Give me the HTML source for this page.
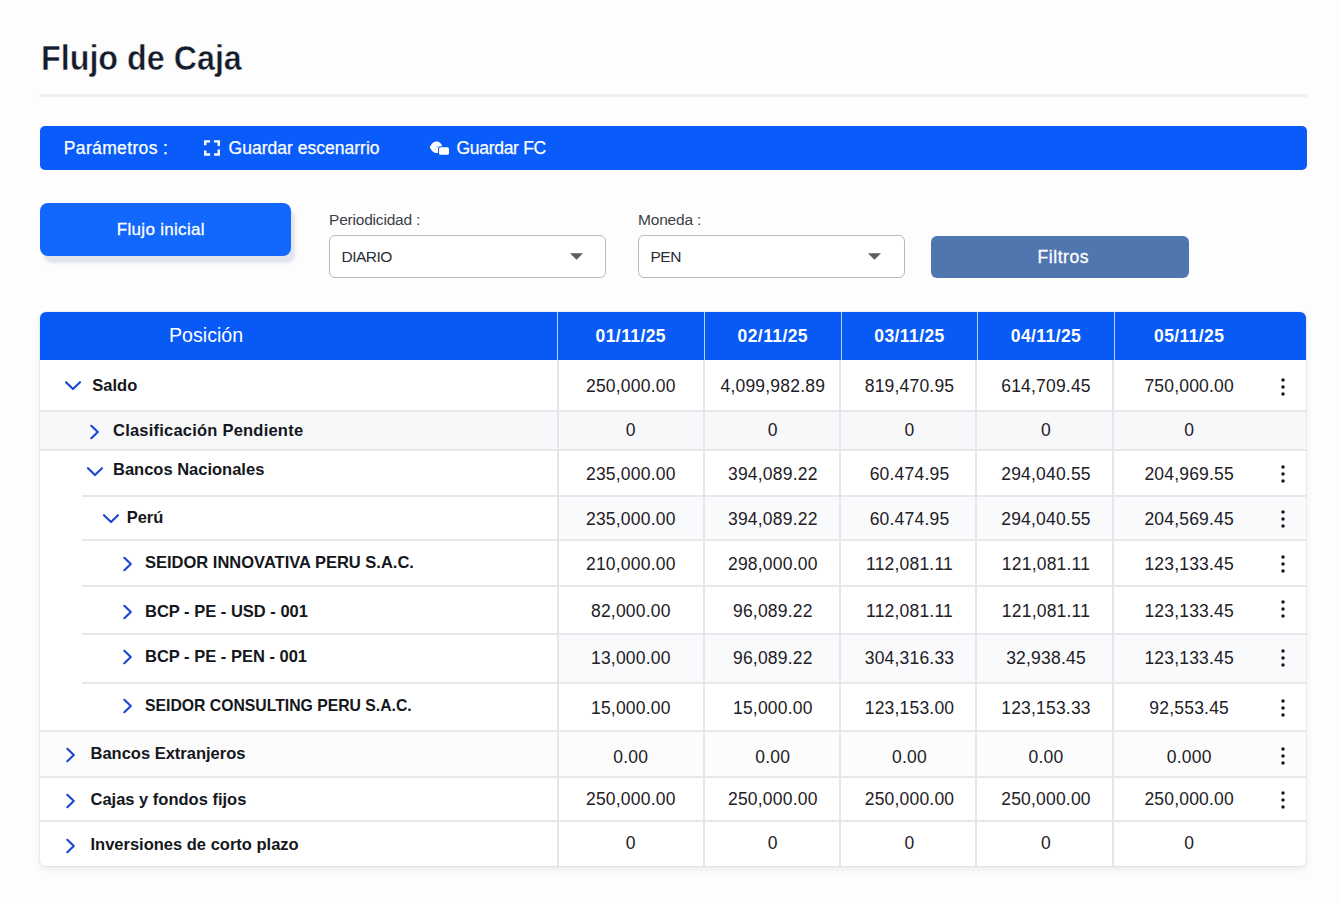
<!DOCTYPE html>
<html lang="es"><head><meta charset="utf-8"><title>Flujo de Caja</title>
<style>
html,body{margin:0;padding:0;}
body{width:1339px;height:904px;background:#fdfdfd;font-family:"Liberation Sans", Arial, sans-serif;position:relative;overflow:hidden;}
.abs{position:absolute;}
.t{position:absolute;white-space:nowrap;line-height:1;}
</style></head><body>
<div class="t" style="left:40.6px;top:40.0px;font-size:35px;font-weight:700;color:#141b2b;letter-spacing:0px;transform:scaleX(0.922);transform-origin:0 0;-webkit-text-stroke:0.5px #fdfdfd;">Flujo de Caja</div>
<div class="abs" style="left:40px;top:94px;width:1267px;height:3px;background:#f0f0f1;box-shadow:0 0 1.5px #f3f3f4"></div>
<div class="abs" style="left:40px;top:126px;width:1267px;height:44px;border-radius:5px;background:#095cf9"></div>
<div class="t" style="left:63.8px;top:140.2px;font-size:17.5px;font-weight:400;color:#fff;letter-spacing:0.35px;-webkit-text-stroke:0.25px #fff;">Parámetros :</div>
<svg class="abs" style="left:203px;top:138.5px" width="18" height="18" viewBox="0 0 18 18" fill="none" stroke="#fff" stroke-width="2.4" stroke-linecap="butt" stroke-linejoin="miter"><path d="M2.2 6.2V2.4H7.1M11 2.4H15.8V7.1M15.8 10.5V15.5H11.1M7.1 15.5H2.2V11.5"/></svg>
<div class="t" style="left:228.5px;top:140.2px;font-size:17.5px;font-weight:400;color:#fff;letter-spacing:0.02px;-webkit-text-stroke:0.25px #fff;">Guardar escenarrio</div>
<svg class="abs" style="left:425px;top:135px" width="30" height="25" viewBox="0 0 30 25"><path fill="#fff" d="M4.7 12.3L6.55 9.27A5.8 5.8 0 1 1 6.55 15.33Z"/><rect x="13" y="11.2" width="12" height="9.6" rx="2.2" fill="#095cf9"/><rect x="14" y="12.2" width="10" height="7.6" rx="1.6" fill="#fff"/><circle cx="12.2" cy="11.6" r="0.8" fill="#9db8f0"/><circle cx="10.4" cy="14.3" r="0.8" fill="#c9c9d6"/></svg>
<div class="t" style="left:456.5px;top:140.2px;font-size:17.5px;font-weight:400;color:#fff;letter-spacing:-0.3px;-webkit-text-stroke:0.25px #fff;">Guardar FC</div>
<div class="abs" style="left:40px;top:203px;width:251px;height:53px;border-radius:8px;background:#1267fd;box-shadow:4px 7px 3px rgba(175,180,200,0.35)"></div>
<div class="t" style="left:116.8px;top:221.2px;font-size:17px;font-weight:400;color:#fff;letter-spacing:0.3px;-webkit-text-stroke:0.3px #fff;">Flujo inicial</div>
<div class="t" style="left:329.0px;top:211.7px;font-size:15.5px;font-weight:400;color:#3d3f45;letter-spacing:-0.2px;">Periodicidad :</div>
<div class="abs" style="left:329px;top:235px;width:277px;height:43px;box-sizing:border-box;border:1.75px solid #b8b9bf;border-radius:6px;background:#fff"></div>
<div class="t" style="left:341.5px;top:249.1px;font-size:15.5px;font-weight:400;color:#2a2c31;letter-spacing:-0.5px;">DIARIO</div>
<svg class="abs" style="left:570px;top:253px" width="13" height="7" viewBox="0 0 13 7"><path d="M0 0.3H13L6.5 6.8Z" fill="#5a5c63"/></svg>
<div class="t" style="left:638.0px;top:211.7px;font-size:15.5px;font-weight:400;color:#3d3f45;letter-spacing:-0.2px;">Moneda :</div>
<div class="abs" style="left:638px;top:235px;width:267px;height:43px;box-sizing:border-box;border:1.75px solid #b8b9bf;border-radius:6px;background:#fff"></div>
<div class="t" style="left:650.5px;top:249.1px;font-size:15.5px;font-weight:400;color:#2a2c31;letter-spacing:-0.5px;">PEN</div>
<svg class="abs" style="left:868px;top:253px" width="13" height="7" viewBox="0 0 13 7"><path d="M0 0.3H13L6.5 6.8Z" fill="#5a5c63"/></svg>
<div class="abs" style="left:930.5px;top:236px;width:258.5px;height:41.5px;border-radius:6px;background:#5076b0"></div>
<div class="t" style="left:1037.6px;top:249.2px;font-size:17.5px;font-weight:400;color:#fff;letter-spacing:0.55px;-webkit-text-stroke:0.3px #fff;">Filtros</div>
<div class="abs" style="left:40px;top:312px;width:1266px;height:554px;background:#fff;border-radius:6px;box-shadow:0 3px 6px rgba(40,50,80,0.10), 0 0 0 1px rgba(40,50,80,0.05)"></div>
<div class="abs" style="left:40px;top:312px;width:1266px;height:48px;background:#075af5;border-radius:6px 6px 0 0"></div>
<div class="abs" style="left:40px;top:360px;width:1266px;height:51px;background:#fff;"></div>
<div class="abs" style="left:40px;top:411px;width:1266px;height:39px;background:#f7f8fa;"></div>
<div class="abs" style="left:40px;top:450px;width:1266px;height:46px;background:#fff;"></div>
<div class="abs" style="left:40px;top:496px;width:1266px;height:44px;background:#fff;"></div>
<div class="abs" style="left:40px;top:540px;width:1266px;height:46px;background:#fff;"></div>
<div class="abs" style="left:40px;top:586px;width:1266px;height:48px;background:#fff;"></div>
<div class="abs" style="left:40px;top:634px;width:1266px;height:49px;background:#fff;"></div>
<div class="abs" style="left:40px;top:683px;width:1266px;height:48px;background:#fff;"></div>
<div class="abs" style="left:40px;top:731px;width:1266px;height:46px;background:#fcfcfd;"></div>
<div class="abs" style="left:40px;top:777px;width:1266px;height:44px;background:#fff;"></div>
<div class="abs" style="left:40px;top:821px;width:1266px;height:45px;background:#fff;border-radius:0 0 6px 6px;"></div>
<div class="abs" style="left:557px;top:496px;width:749px;height:44px;background:#f9fafb"></div>
<div class="abs" style="left:557px;top:634px;width:749px;height:49px;background:#f9fafb"></div>
<div class="abs" style="left:40px;top:410px;width:1266px;height:2px;background:#e6e8eb"></div>
<div class="abs" style="left:40px;top:449px;width:1266px;height:2px;background:#e6e8eb"></div>
<div class="abs" style="left:82px;top:495px;width:1224px;height:2px;background:#e6e8eb"></div>
<div class="abs" style="left:82px;top:539px;width:1224px;height:2px;background:#e6e8eb"></div>
<div class="abs" style="left:82px;top:585px;width:1224px;height:2px;background:#e6e8eb"></div>
<div class="abs" style="left:82px;top:633px;width:1224px;height:2px;background:#e6e8eb"></div>
<div class="abs" style="left:82px;top:682px;width:1224px;height:2px;background:#e6e8eb"></div>
<div class="abs" style="left:40px;top:730px;width:1266px;height:2px;background:#e6e8eb"></div>
<div class="abs" style="left:40px;top:776px;width:1266px;height:2px;background:#e6e8eb"></div>
<div class="abs" style="left:40px;top:820px;width:1266px;height:2px;background:#e6e8eb"></div>
<div class="abs" style="left:557px;top:312px;width:1px;height:48px;background:rgba(255,255,255,0.72)"></div>
<div class="abs" style="left:557px;top:360px;width:2px;height:506px;background:#e4e6ea"></div>
<div class="abs" style="left:704px;top:312px;width:1px;height:48px;background:rgba(255,255,255,0.72)"></div>
<div class="abs" style="left:703px;top:360px;width:2px;height:506px;background:#e4e6ea"></div>
<div class="abs" style="left:841px;top:312px;width:1px;height:48px;background:rgba(255,255,255,0.72)"></div>
<div class="abs" style="left:839px;top:360px;width:2px;height:506px;background:#e4e6ea"></div>
<div class="abs" style="left:977px;top:312px;width:1px;height:48px;background:rgba(255,255,255,0.72)"></div>
<div class="abs" style="left:975px;top:360px;width:2px;height:506px;background:#e4e6ea"></div>
<div class="abs" style="left:1114px;top:312px;width:1px;height:48px;background:rgba(255,255,255,0.72)"></div>
<div class="abs" style="left:1112px;top:360px;width:2px;height:506px;background:#e4e6ea"></div>
<svg class="abs" style="left:63.7px;top:379.8px" width="18" height="11" viewBox="0 0 18 11" fill="none" stroke="#1b46d0" stroke-width="2.15" stroke-linecap="round" stroke-linejoin="round"><path d="M2 2.2L9 9L16 2.2"/></svg>
<div class="t" style="left:92.3px;top:376.5px;font-size:16.5px;font-weight:700;color:#15171c;letter-spacing:0.0px;">Saldo</div>
<div class="t" style="left:560.8px;width:140px;text-align:center;top:377.8px;font-size:17.5px;font-weight:400;color:#1e2026;letter-spacing:0.2px;">250,000.00</div>
<div class="t" style="left:702.8px;width:140px;text-align:center;top:377.8px;font-size:17.5px;font-weight:400;color:#1e2026;letter-spacing:0.2px;">4,099,982.89</div>
<div class="t" style="left:839.5px;width:140px;text-align:center;top:377.8px;font-size:17.5px;font-weight:400;color:#1e2026;letter-spacing:0.2px;">819,470.95</div>
<div class="t" style="left:976.0px;width:140px;text-align:center;top:377.8px;font-size:17.5px;font-weight:400;color:#1e2026;letter-spacing:0.2px;">614,709.45</div>
<div class="t" style="left:1119.2px;width:140px;text-align:center;top:377.8px;font-size:17.5px;font-weight:400;color:#1e2026;letter-spacing:0.2px;">750,000.00</div>
<svg class="abs" style="left:1279px;top:376.2px" width="8" height="22" viewBox="0 0 8 22"><circle cx="4" cy="4.1" r="1.75" fill="#16171c"/><circle cx="4" cy="11" r="1.75" fill="#16171c"/><circle cx="4" cy="17.9" r="1.75" fill="#16171c"/></svg>
<svg class="abs" style="left:88.8px;top:424.4px" width="12" height="16" viewBox="0 0 12 16" fill="none" stroke="#1b46d0" stroke-width="2.15" stroke-linecap="round" stroke-linejoin="round"><path d="M2.3 1.8L8.8 8L2.3 14.2"/></svg>
<div class="t" style="left:113.0px;top:422.0px;font-size:16.5px;font-weight:700;color:#15171c;letter-spacing:0.22px;">Clasificación Pendiente</div>
<div class="t" style="left:560.8px;width:140px;text-align:center;top:422.3px;font-size:17.5px;font-weight:400;color:#1e2026;letter-spacing:0.2px;">0</div>
<div class="t" style="left:702.8px;width:140px;text-align:center;top:422.3px;font-size:17.5px;font-weight:400;color:#1e2026;letter-spacing:0.2px;">0</div>
<div class="t" style="left:839.5px;width:140px;text-align:center;top:422.3px;font-size:17.5px;font-weight:400;color:#1e2026;letter-spacing:0.2px;">0</div>
<div class="t" style="left:976.0px;width:140px;text-align:center;top:422.3px;font-size:17.5px;font-weight:400;color:#1e2026;letter-spacing:0.2px;">0</div>
<div class="t" style="left:1119.2px;width:140px;text-align:center;top:422.3px;font-size:17.5px;font-weight:400;color:#1e2026;letter-spacing:0.2px;">0</div>
<svg class="abs" style="left:86.2px;top:465.5px" width="18" height="11" viewBox="0 0 18 11" fill="none" stroke="#1b46d0" stroke-width="2.15" stroke-linecap="round" stroke-linejoin="round"><path d="M2 2.2L9 9L16 2.2"/></svg>
<div class="t" style="left:113.0px;top:460.8px;font-size:16.5px;font-weight:700;color:#15171c;letter-spacing:0.0px;">Bancos Nacionales</div>
<div class="t" style="left:560.8px;width:140px;text-align:center;top:465.8px;font-size:17.5px;font-weight:400;color:#1e2026;letter-spacing:0.2px;">235,000.00</div>
<div class="t" style="left:702.8px;width:140px;text-align:center;top:465.8px;font-size:17.5px;font-weight:400;color:#1e2026;letter-spacing:0.2px;">394,089.22</div>
<div class="t" style="left:839.5px;width:140px;text-align:center;top:465.8px;font-size:17.5px;font-weight:400;color:#1e2026;letter-spacing:0.2px;">60.474.95</div>
<div class="t" style="left:976.0px;width:140px;text-align:center;top:465.8px;font-size:17.5px;font-weight:400;color:#1e2026;letter-spacing:0.2px;">294,040.55</div>
<div class="t" style="left:1119.2px;width:140px;text-align:center;top:465.8px;font-size:17.5px;font-weight:400;color:#1e2026;letter-spacing:0.2px;">204,969.55</div>
<svg class="abs" style="left:1279px;top:462.6px" width="8" height="22" viewBox="0 0 8 22"><circle cx="4" cy="4.1" r="1.75" fill="#16171c"/><circle cx="4" cy="11" r="1.75" fill="#16171c"/><circle cx="4" cy="17.9" r="1.75" fill="#16171c"/></svg>
<svg class="abs" style="left:101.5px;top:512.5px" width="18" height="11" viewBox="0 0 18 11" fill="none" stroke="#1b46d0" stroke-width="2.15" stroke-linecap="round" stroke-linejoin="round"><path d="M2 2.2L9 9L16 2.2"/></svg>
<div class="t" style="left:126.7px;top:508.5px;font-size:16.5px;font-weight:700;color:#15171c;letter-spacing:0.0px;">Perú</div>
<div class="t" style="left:560.8px;width:140px;text-align:center;top:511.2px;font-size:17.5px;font-weight:400;color:#1e2026;letter-spacing:0.2px;">235,000.00</div>
<div class="t" style="left:702.8px;width:140px;text-align:center;top:511.2px;font-size:17.5px;font-weight:400;color:#1e2026;letter-spacing:0.2px;">394,089.22</div>
<div class="t" style="left:839.5px;width:140px;text-align:center;top:511.2px;font-size:17.5px;font-weight:400;color:#1e2026;letter-spacing:0.2px;">60.474.95</div>
<div class="t" style="left:976.0px;width:140px;text-align:center;top:511.2px;font-size:17.5px;font-weight:400;color:#1e2026;letter-spacing:0.2px;">294,040.55</div>
<div class="t" style="left:1119.2px;width:140px;text-align:center;top:511.2px;font-size:17.5px;font-weight:400;color:#1e2026;letter-spacing:0.2px;">204,569.45</div>
<svg class="abs" style="left:1279px;top:508.2px" width="8" height="22" viewBox="0 0 8 22"><circle cx="4" cy="4.1" r="1.75" fill="#16171c"/><circle cx="4" cy="11" r="1.75" fill="#16171c"/><circle cx="4" cy="17.9" r="1.75" fill="#16171c"/></svg>
<svg class="abs" style="left:121.5px;top:555.7px" width="12" height="16" viewBox="0 0 12 16" fill="none" stroke="#1b46d0" stroke-width="2.15" stroke-linecap="round" stroke-linejoin="round"><path d="M2.3 1.8L8.8 8L2.3 14.2"/></svg>
<div class="t" style="left:145.0px;top:554.2px;font-size:16.5px;font-weight:700;color:#15171c;letter-spacing:0.0px;">SEIDOR INNOVATIVA PERU S.A.C.</div>
<div class="t" style="left:560.8px;width:140px;text-align:center;top:555.9px;font-size:17.5px;font-weight:400;color:#1e2026;letter-spacing:0.2px;">210,000.00</div>
<div class="t" style="left:702.8px;width:140px;text-align:center;top:555.9px;font-size:17.5px;font-weight:400;color:#1e2026;letter-spacing:0.2px;">298,000.00</div>
<div class="t" style="left:839.5px;width:140px;text-align:center;top:555.9px;font-size:17.5px;font-weight:400;color:#1e2026;letter-spacing:0.2px;">112,081.11</div>
<div class="t" style="left:976.0px;width:140px;text-align:center;top:555.9px;font-size:17.5px;font-weight:400;color:#1e2026;letter-spacing:0.2px;">121,081.11</div>
<div class="t" style="left:1119.2px;width:140px;text-align:center;top:555.9px;font-size:17.5px;font-weight:400;color:#1e2026;letter-spacing:0.2px;">123,133.45</div>
<svg class="abs" style="left:1279px;top:553.0px" width="8" height="22" viewBox="0 0 8 22"><circle cx="4" cy="4.1" r="1.75" fill="#16171c"/><circle cx="4" cy="11" r="1.75" fill="#16171c"/><circle cx="4" cy="17.9" r="1.75" fill="#16171c"/></svg>
<svg class="abs" style="left:121.5px;top:603.7px" width="12" height="16" viewBox="0 0 12 16" fill="none" stroke="#1b46d0" stroke-width="2.15" stroke-linecap="round" stroke-linejoin="round"><path d="M2.3 1.8L8.8 8L2.3 14.2"/></svg>
<div class="t" style="left:145.0px;top:602.5px;font-size:16.5px;font-weight:700;color:#15171c;letter-spacing:0.0px;">BCP - PE - USD - 001</div>
<div class="t" style="left:560.8px;width:140px;text-align:center;top:602.5px;font-size:17.5px;font-weight:400;color:#1e2026;letter-spacing:0.2px;">82,000.00</div>
<div class="t" style="left:702.8px;width:140px;text-align:center;top:602.5px;font-size:17.5px;font-weight:400;color:#1e2026;letter-spacing:0.2px;">96,089.22</div>
<div class="t" style="left:839.5px;width:140px;text-align:center;top:602.5px;font-size:17.5px;font-weight:400;color:#1e2026;letter-spacing:0.2px;">112,081.11</div>
<div class="t" style="left:976.0px;width:140px;text-align:center;top:602.5px;font-size:17.5px;font-weight:400;color:#1e2026;letter-spacing:0.2px;">121,081.11</div>
<div class="t" style="left:1119.2px;width:140px;text-align:center;top:602.5px;font-size:17.5px;font-weight:400;color:#1e2026;letter-spacing:0.2px;">123,133.45</div>
<svg class="abs" style="left:1279px;top:598.4px" width="8" height="22" viewBox="0 0 8 22"><circle cx="4" cy="4.1" r="1.75" fill="#16171c"/><circle cx="4" cy="11" r="1.75" fill="#16171c"/><circle cx="4" cy="17.9" r="1.75" fill="#16171c"/></svg>
<svg class="abs" style="left:121.5px;top:649.0px" width="12" height="16" viewBox="0 0 12 16" fill="none" stroke="#1b46d0" stroke-width="2.15" stroke-linecap="round" stroke-linejoin="round"><path d="M2.3 1.8L8.8 8L2.3 14.2"/></svg>
<div class="t" style="left:145.0px;top:648.3px;font-size:16.5px;font-weight:700;color:#15171c;letter-spacing:0.0px;">BCP - PE - PEN - 001</div>
<div class="t" style="left:560.8px;width:140px;text-align:center;top:649.9px;font-size:17.5px;font-weight:400;color:#1e2026;letter-spacing:0.2px;">13,000.00</div>
<div class="t" style="left:702.8px;width:140px;text-align:center;top:649.9px;font-size:17.5px;font-weight:400;color:#1e2026;letter-spacing:0.2px;">96,089.22</div>
<div class="t" style="left:839.5px;width:140px;text-align:center;top:649.9px;font-size:17.5px;font-weight:400;color:#1e2026;letter-spacing:0.2px;">304,316.33</div>
<div class="t" style="left:976.0px;width:140px;text-align:center;top:649.9px;font-size:17.5px;font-weight:400;color:#1e2026;letter-spacing:0.2px;">32,938.45</div>
<div class="t" style="left:1119.2px;width:140px;text-align:center;top:649.9px;font-size:17.5px;font-weight:400;color:#1e2026;letter-spacing:0.2px;">123,133.45</div>
<svg class="abs" style="left:1279px;top:646.7px" width="8" height="22" viewBox="0 0 8 22"><circle cx="4" cy="4.1" r="1.75" fill="#16171c"/><circle cx="4" cy="11" r="1.75" fill="#16171c"/><circle cx="4" cy="17.9" r="1.75" fill="#16171c"/></svg>
<svg class="abs" style="left:121.5px;top:698.2px" width="12" height="16" viewBox="0 0 12 16" fill="none" stroke="#1b46d0" stroke-width="2.15" stroke-linecap="round" stroke-linejoin="round"><path d="M2.3 1.8L8.8 8L2.3 14.2"/></svg>
<div class="t" style="left:145.0px;top:697.0px;font-size:16.5px;font-weight:700;color:#15171c;letter-spacing:0.0px;transform:scaleX(0.955);transform-origin:0 0;">SEIDOR CONSULTING PERU S.A.C.</div>
<div class="t" style="left:560.8px;width:140px;text-align:center;top:699.7px;font-size:17.5px;font-weight:400;color:#1e2026;letter-spacing:0.2px;">15,000.00</div>
<div class="t" style="left:702.8px;width:140px;text-align:center;top:699.7px;font-size:17.5px;font-weight:400;color:#1e2026;letter-spacing:0.2px;">15,000.00</div>
<div class="t" style="left:839.5px;width:140px;text-align:center;top:699.7px;font-size:17.5px;font-weight:400;color:#1e2026;letter-spacing:0.2px;">123,153.00</div>
<div class="t" style="left:976.0px;width:140px;text-align:center;top:699.7px;font-size:17.5px;font-weight:400;color:#1e2026;letter-spacing:0.2px;">123,153.33</div>
<div class="t" style="left:1119.2px;width:140px;text-align:center;top:699.7px;font-size:17.5px;font-weight:400;color:#1e2026;letter-spacing:0.2px;">92,553.45</div>
<svg class="abs" style="left:1279px;top:697.1px" width="8" height="22" viewBox="0 0 8 22"><circle cx="4" cy="4.1" r="1.75" fill="#16171c"/><circle cx="4" cy="11" r="1.75" fill="#16171c"/><circle cx="4" cy="17.9" r="1.75" fill="#16171c"/></svg>
<svg class="abs" style="left:64.7px;top:747.0px" width="12" height="16" viewBox="0 0 12 16" fill="none" stroke="#1b46d0" stroke-width="2.15" stroke-linecap="round" stroke-linejoin="round"><path d="M2.3 1.8L8.8 8L2.3 14.2"/></svg>
<div class="t" style="left:90.5px;top:744.7px;font-size:16.5px;font-weight:700;color:#15171c;letter-spacing:0.0px;">Bancos Extranjeros</div>
<div class="t" style="left:560.8px;width:140px;text-align:center;top:748.5px;font-size:17.5px;font-weight:400;color:#1e2026;letter-spacing:0.2px;">0.00</div>
<div class="t" style="left:702.8px;width:140px;text-align:center;top:748.5px;font-size:17.5px;font-weight:400;color:#1e2026;letter-spacing:0.2px;">0.00</div>
<div class="t" style="left:839.5px;width:140px;text-align:center;top:748.5px;font-size:17.5px;font-weight:400;color:#1e2026;letter-spacing:0.2px;">0.00</div>
<div class="t" style="left:976.0px;width:140px;text-align:center;top:748.5px;font-size:17.5px;font-weight:400;color:#1e2026;letter-spacing:0.2px;">0.00</div>
<div class="t" style="left:1119.2px;width:140px;text-align:center;top:748.5px;font-size:17.5px;font-weight:400;color:#1e2026;letter-spacing:0.2px;">0.000</div>
<svg class="abs" style="left:1279px;top:744.8px" width="8" height="22" viewBox="0 0 8 22"><circle cx="4" cy="4.1" r="1.75" fill="#16171c"/><circle cx="4" cy="11" r="1.75" fill="#16171c"/><circle cx="4" cy="17.9" r="1.75" fill="#16171c"/></svg>
<svg class="abs" style="left:64.7px;top:792.7px" width="12" height="16" viewBox="0 0 12 16" fill="none" stroke="#1b46d0" stroke-width="2.15" stroke-linecap="round" stroke-linejoin="round"><path d="M2.3 1.8L8.8 8L2.3 14.2"/></svg>
<div class="t" style="left:90.5px;top:790.5px;font-size:16.5px;font-weight:700;color:#15171c;letter-spacing:0.0px;">Cajas y fondos fijos</div>
<div class="t" style="left:560.8px;width:140px;text-align:center;top:791.4px;font-size:17.5px;font-weight:400;color:#1e2026;letter-spacing:0.2px;">250,000.00</div>
<div class="t" style="left:702.8px;width:140px;text-align:center;top:791.4px;font-size:17.5px;font-weight:400;color:#1e2026;letter-spacing:0.2px;">250,000.00</div>
<div class="t" style="left:839.5px;width:140px;text-align:center;top:791.4px;font-size:17.5px;font-weight:400;color:#1e2026;letter-spacing:0.2px;">250,000.00</div>
<div class="t" style="left:976.0px;width:140px;text-align:center;top:791.4px;font-size:17.5px;font-weight:400;color:#1e2026;letter-spacing:0.2px;">250,000.00</div>
<div class="t" style="left:1119.2px;width:140px;text-align:center;top:791.4px;font-size:17.5px;font-weight:400;color:#1e2026;letter-spacing:0.2px;">250,000.00</div>
<svg class="abs" style="left:1279px;top:789.3px" width="8" height="22" viewBox="0 0 8 22"><circle cx="4" cy="4.1" r="1.75" fill="#16171c"/><circle cx="4" cy="11" r="1.75" fill="#16171c"/><circle cx="4" cy="17.9" r="1.75" fill="#16171c"/></svg>
<svg class="abs" style="left:64.7px;top:838.0px" width="12" height="16" viewBox="0 0 12 16" fill="none" stroke="#1b46d0" stroke-width="2.15" stroke-linecap="round" stroke-linejoin="round"><path d="M2.3 1.8L8.8 8L2.3 14.2"/></svg>
<div class="t" style="left:90.5px;top:836.3px;font-size:16.5px;font-weight:700;color:#15171c;letter-spacing:0.0px;">Inversiones de corto plazo</div>
<div class="t" style="left:560.8px;width:140px;text-align:center;top:835.2px;font-size:17.5px;font-weight:400;color:#1e2026;letter-spacing:0.2px;">0</div>
<div class="t" style="left:702.8px;width:140px;text-align:center;top:835.2px;font-size:17.5px;font-weight:400;color:#1e2026;letter-spacing:0.2px;">0</div>
<div class="t" style="left:839.5px;width:140px;text-align:center;top:835.2px;font-size:17.5px;font-weight:400;color:#1e2026;letter-spacing:0.2px;">0</div>
<div class="t" style="left:976.0px;width:140px;text-align:center;top:835.2px;font-size:17.5px;font-weight:400;color:#1e2026;letter-spacing:0.2px;">0</div>
<div class="t" style="left:1119.2px;width:140px;text-align:center;top:835.2px;font-size:17.5px;font-weight:400;color:#1e2026;letter-spacing:0.2px;">0</div>
<div class="t" style="left:168.7px;top:325.4px;font-size:20px;font-weight:400;color:#fff;letter-spacing:0.0px;transform:scaleX(0.98);transform-origin:0 0;">Posición</div>
<div class="t" style="left:560.8px;width:140px;text-align:center;top:327.9px;font-size:17.5px;font-weight:700;color:#fff;letter-spacing:0.4px;">01/11/25</div>
<div class="t" style="left:702.8px;width:140px;text-align:center;top:327.9px;font-size:17.5px;font-weight:700;color:#fff;letter-spacing:0.4px;">02/11/25</div>
<div class="t" style="left:839.5px;width:140px;text-align:center;top:327.9px;font-size:17.5px;font-weight:700;color:#fff;letter-spacing:0.4px;">03/11/25</div>
<div class="t" style="left:976.0px;width:140px;text-align:center;top:327.9px;font-size:17.5px;font-weight:700;color:#fff;letter-spacing:0.4px;">04/11/25</div>
<div class="t" style="left:1119.2px;width:140px;text-align:center;top:327.9px;font-size:17.5px;font-weight:700;color:#fff;letter-spacing:0.4px;">05/11/25</div>
</body></html>
